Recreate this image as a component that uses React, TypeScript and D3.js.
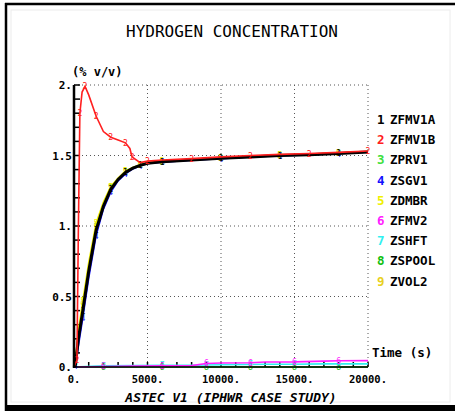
import { useMemo } from "react";
import { scaleLinear, line as d3line, range } from "d3";

// --- data ---
const seriesNames = ["ZFMV1A", "ZFMV1B", "ZPRV1", "ZSGV1", "ZDMBR", "ZFMV2", "ZSHFT", "ZSPOOL", "ZVOL2"];
const seriesColors = ["#000000", "#ff2020", "#40e040", "#1010ff", "#f0f000", "#ff20ff", "#30f0f0", "#10c010", "#e8d020"];

const tMain = [0, 100, 300, 600, 1000, 1500, 2000, 2500, 3000, 3500, 4000, 4500, 5000, 6000, 8000, 10000, 12000, 14000, 16000, 18000, 20000];
const vFMV1A = [0, 0.02, 0.2, 0.4, 0.68, 0.97, 1.14, 1.26, 1.33, 1.38, 1.41, 1.43, 1.445, 1.455, 1.468, 1.48, 1.49, 1.5, 1.505, 1.515, 1.525];
const vPRV1 = [0, 0.03, 0.22, 0.42, 0.7, 0.99, 1.15, 1.27, 1.335, 1.385, 1.413, 1.432, 1.447, 1.457, 1.47, 1.482, 1.492, 1.502, 1.508, 1.517, 1.527];
const vSGV1 = [0, 0.01, 0.15, 0.35, 0.63, 0.93, 1.12, 1.24, 1.32, 1.37, 1.405, 1.428, 1.443, 1.453, 1.466, 1.478, 1.489, 1.498, 1.504, 1.514, 1.523];
const vDMBR = [0, 0.05, 0.26, 0.47, 0.74, 1.02, 1.17, 1.28, 1.34, 1.39, 1.415, 1.434, 1.448, 1.458, 1.471, 1.483, 1.493, 1.503, 1.509, 1.518, 1.528];
const vVOL2 = [0, 0.04, 0.24, 0.45, 0.72, 1.0, 1.16, 1.275, 1.338, 1.388, 1.414, 1.433, 1.447, 1.457, 1.47, 1.482, 1.492, 1.502, 1.508, 1.517, 1.527];

const tRed = [0, 200, 300, 400, 550, 750, 1000, 1500, 2000, 2500, 3000, 3500, 3800, 3950, 4500, 5000, 6000, 8000, 10000, 12000, 14000, 16000, 18000, 20000];
const vFMV1B = [0, 0.05, 1.0, 1.8, 1.95, 1.99, 1.93, 1.78, 1.67, 1.63, 1.61, 1.59, 1.55, 1.49, 1.45, 1.46, 1.468, 1.478, 1.49, 1.5, 1.508, 1.514, 1.522, 1.532];

const tLow = [0, 2000, 4000, 6000, 8000, 9000, 10000, 12000, 13000, 15000, 17000, 18000, 20000];
const vFMV2 = [0, 0.004, 0.006, 0.008, 0.01, 0.025, 0.028, 0.03, 0.035, 0.036, 0.042, 0.044, 0.045];
const vSHFT = [0, 0.008, 0.01, 0.012, 0.012, 0.014, 0.016, 0.018, 0.02, 0.02, 0.022, 0.022, 0.022];
const vSPOOL = [0, 0, 0, 0, 0, 0, 0, 0, 0, 0, 0, 0, 0];

const seriesData: [number[], number[]][] = [
  [tMain, vFMV1A],
  [tRed, vFMV1B],
  [tMain, vPRV1],
  [tMain, vSGV1],
  [tMain, vDMBR],
  [tLow, vFMV2],
  [tLow, vSHFT],
  [tLow, vSPOOL],
  [tMain, vVOL2],
];

const yTicks = [0, 0.5, 1, 1.5, 2];
const yTickLabels = ["0.", "0.5", "1.", "1.5", "2."];
const xTicks = [0, 5000, 10000, 15000, 20000];
const xTickLabels = ["0.", "5000.", "10000.", "15000.", "20000."];

const W = 455;
const H = 411;
const mono = "'DejaVu Sans Mono', monospace";

export default function App() {
  const x = useMemo(() => scaleLinear().domain([0, 20000]).range([74, 368]), []);
  const y = useMemo(() => scaleLinear().domain([0, 2]).range([367, 85]), []);

  const lineGen = d3line<[number, number]>()
    .x((d) => x(d[0]))
    .y((d) => y(d[1]));

  // draw order: low series first, black on top but red peeking
  const order = [7, 6, 5, 8, 2, 3, 4, 0, 1];

  return (
    <svg
      width={W}
      height={H}
      style={{ position: "absolute", left: 0, top: 0, background: "#fff" }}
    >
      {/* frame */}
      <rect x={0} y={0} width={W} height={H} fill="#fff" />
      <rect x={11} y={10} width={439} height={392} fill="none" stroke="#ececec" strokeWidth={1} />
      <line x1={6} x2={6} y1={3} y2={H} stroke="#000" strokeWidth={2.5} />
      <line x1={5} x2={W} y1={4} y2={4} stroke="#000" strokeWidth={2.5} />
      <rect x={5} y={405} width={W - 5} height={6} fill="#000" />

      <text x={232} y={37} fontFamily={mono} fontSize={16} textAnchor="middle" fill="#000">
        HYDROGEN CONCENTRATION
      </text>

      {/* grid */}
      {yTicks.slice(1).map((v) => (
        <line key={"gy" + v} x1={x(0)} x2={x(20000)} y1={y(v)} y2={y(v)} stroke="#555" strokeWidth={1} strokeDasharray="1,3" />
      ))}
      {xTicks.slice(1).map((v) => (
        <line key={"gx" + v} x1={x(v)} x2={x(v)} y1={y(2)} y2={y(0)} stroke="#555" strokeWidth={1} strokeDasharray="1,3" />
      ))}

      {/* minor ticks */}
      {range(0, 2.001, 0.1).map((v) => (
        <line key={"my" + v} x1={x(0)} x2={x(0) + 6} y1={y(v)} y2={y(v)} stroke="#000" strokeWidth={1.5} />
      ))}
      {range(0, 20001, 1000).map((v) => (
        <line key={"mx" + v} x1={x(v)} x2={x(v)} y1={y(0)} y2={y(0) - 5} stroke="#000" strokeWidth={1.5} />
      ))}

      {/* series */}
      {order.map((i) => {
        const [ts, vs] = seriesData[i];
        const pts = ts.map((t, k) => [t, vs[k]] as [number, number]);
        return (
          <g key={"s" + i}>
            <path d={lineGen(pts) ?? ""} fill="none" stroke={seriesColors[i]} strokeWidth={i === 0 ? 3 : 1.6} />
            {pts
              .filter((_, k) => k % 2 === 1)
              .map((p, k) => (
                <text
                  key={k}
                  x={x(p[0])}
                  y={y(p[1]) + 3}
                  fontFamily={mono}
                  fontSize={8}
                  fill={seriesColors[i]}
                  textAnchor="middle"
                >
                  {i + 1}
                </text>
              ))}
          </g>
        );
      })}

      {/* axes */}
      <line x1={x(0)} x2={x(0)} y1={y(2)} y2={y(0) + 1} stroke="#000" strokeWidth={2.5} />
      <line x1={x(0)} x2={x(20000)} y1={y(0)} y2={y(0)} stroke="#000" strokeWidth={1.5} />

      {yTicks.map((v, k) => (
        <text key={"yl" + v} x={x(0) - 2} y={y(v) + 4} fontFamily={mono} fontWeight="bold" fontSize={11} textAnchor="end" fill="#000">
          {yTickLabels[k]}
        </text>
      ))}
      {xTicks.map((v, k) => (
        <text key={"xl" + v} x={x(v)} y={y(0) + 16} fontFamily={mono} fontWeight="bold" fontSize={10.5} textAnchor="middle" fill="#000">
          {xTickLabels[k]}
        </text>
      ))}

      <text x={72} y={76} fontFamily={mono} fontWeight="bold" fontSize={12} fill="#000">
        (% v/v)
      </text>
      <text x={372} y={357} fontFamily={mono} fontWeight="bold" fontSize={12.5} fill="#000">
        Time (s)
      </text>
      <text x={231} y={402} fontFamily={mono} fontWeight="bold" fontStyle="italic" fontSize={13} textAnchor="middle" fill="#000">
        ASTEC V1 (IPHWR CASE STUDY)
      </text>

      {/* legend */}
      {seriesNames.map((name, i) => (
        <g key={name} transform={`translate(377,${124 + i * 20.2})`}>
          <text x={0} y={0} fontFamily={mono} fontWeight="bold" fontSize={12.5} fill={seriesColors[i]}>
            {i + 1}
          </text>
          <text x={13} y={0} fontFamily={mono} fontWeight="bold" fontSize={12.5} fill="#000">
            {name}
          </text>
        </g>
      ))}
    </svg>
  );
}
